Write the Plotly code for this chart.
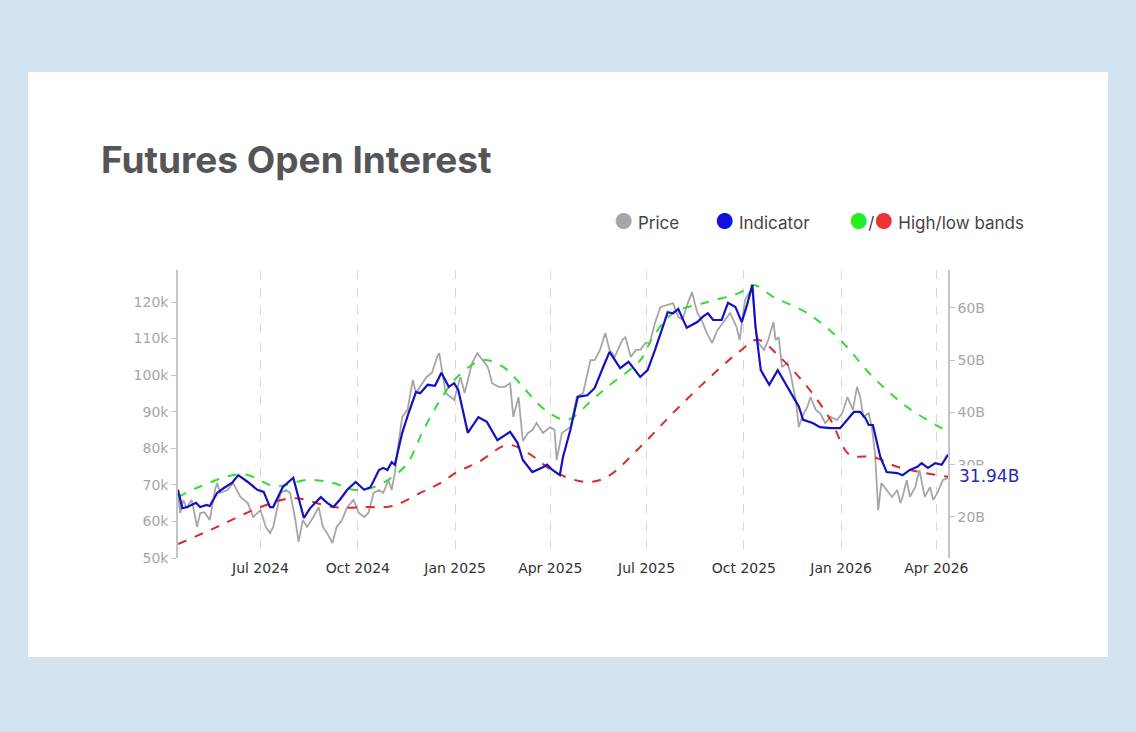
import plotly.graph_objects as go

# ---------------- data ----------------
price_dates = [
    "2024-04-14", "2024-04-16", "2024-04-19", "2024-04-22", "2024-04-27", "2024-05-02", "2024-05-05",
    "2024-05-09", "2024-05-14", "2024-05-19", "2024-05-21", "2024-05-24", "2024-05-31", "2024-06-05",
    "2024-06-12", "2024-06-19", "2024-06-24", "2024-07-01", "2024-07-06", "2024-07-10", "2024-07-13",
    "2024-07-20", "2024-07-25", "2024-07-29", "2024-08-03", "2024-08-06", "2024-08-10", "2024-08-14",
    "2024-08-20", "2024-08-25", "2024-08-29", "2024-09-02", "2024-09-07", "2024-09-11", "2024-09-16",
    "2024-09-21", "2024-09-27", "2024-10-02", "2024-10-07", "2024-10-11", "2024-10-16", "2024-10-21",
    "2024-10-25", "2024-10-30", "2024-11-02", "2024-11-05", "2024-11-08", "2024-11-12", "2024-11-17",
    "2024-11-22", "2024-11-25", "2024-11-29", "2024-12-05", "2024-12-10", "2024-12-15", "2024-12-17",
    "2024-12-21", "2024-12-23", "2024-12-31", "2025-01-06", "2025-01-10", "2025-01-17", "2025-01-22",
    "2025-01-27", "2025-02-01", "2025-02-05", "2025-02-11", "2025-02-17", "2025-02-22", "2025-02-25",
    "2025-03-02", "2025-03-06", "2025-03-11", "2025-03-15", "2025-03-19", "2025-03-25", "2025-04-01",
    "2025-04-05", "2025-04-07", "2025-04-12", "2025-04-20", "2025-04-26", "2025-05-02", "2025-05-09",
    "2025-05-13", "2025-05-18", "2025-05-23", "2025-05-27", "2025-06-01", "2025-06-08", "2025-06-11",
    "2025-06-16", "2025-06-21", "2025-06-25", "2025-06-30", "2025-07-04", "2025-07-09", "2025-07-14",
    "2025-07-21", "2025-07-26", "2025-07-31", "2025-08-04", "2025-08-09", "2025-08-13", "2025-08-18",
    "2025-08-22", "2025-08-27", "2025-09-01", "2025-09-06", "2025-09-11", "2025-09-18", "2025-09-24",
    "2025-09-27", "2025-10-02", "2025-10-09", "2025-10-12", "2025-10-15", "2025-10-20", "2025-10-24",
    "2025-10-29", "2025-10-31", "2025-11-03", "2025-11-06", "2025-11-11", "2025-11-14", "2025-11-19",
    "2025-11-22", "2025-11-25", "2025-11-30", "2025-12-03", "2025-12-08", "2025-12-12", "2025-12-17",
    "2025-12-22", "2025-12-28", "2026-01-02", "2026-01-07", "2026-01-12", "2026-01-16", "2026-01-19",
    "2026-01-22", "2026-01-27", "2026-01-30", "2026-02-02", "2026-02-05", "2026-02-08", "2026-02-13",
    "2026-02-18", "2026-02-23", "2026-02-26", "2026-02-28", "2026-03-04", "2026-03-07", "2026-03-12",
    "2026-03-16", "2026-03-21", "2026-03-26", "2026-03-29", "2026-04-02", "2026-04-07", "2026-04-12",
]
price_k = [
    67.8, 62.3, 65.9, 63.7, 65.9, 58.5, 62.3,
    62.5, 60.4, 68.6, 70.5, 67.8, 68.6, 70.5,
    66.7, 65.0, 61.2, 63.1, 58.5, 56.8, 58.5,
    67.8, 68.6, 67.8, 60.4, 54.4, 60.4, 58.5,
    61.2, 63.9, 58.5, 56.8, 54.1, 58.5, 60.4,
    63.9, 65.9, 62.3, 61.2, 62.3, 67.8, 68.6,
    67.8, 71.3, 68.6, 73.2, 80.4, 88.6, 90.5,
    98.7, 95.1, 96.8, 99.5, 100.6, 105.0, 106.0,
    97.8, 95.1, 93.2, 99.5, 95.1, 103.3, 106.0,
    104.1, 102.2, 97.8, 96.8, 96.8, 97.8, 88.6,
    94.0, 82.0, 84.2, 85.0, 86.9, 84.2, 85.8,
    85.0, 76.8, 84.2, 85.8, 94.0, 95.1, 104.1,
    104.1, 106.9, 111.5, 106.9, 105.0, 109.6, 110.4,
    105.0, 106.9, 106.9, 108.8, 108.8, 114.3, 118.6,
    119.2, 119.7, 115.9, 115.1, 119.7, 122.7, 117.0,
    115.1, 111.5, 108.8, 112.3, 114.3, 117.0, 113.2,
    109.6, 120.5, 124.1, 113.2, 108.8, 106.9, 109.6,
    114.5, 109.6, 110.4, 102.2, 103.3, 100.6, 93.2,
    85.8, 88.6, 91.3, 94.0, 90.5, 89.6, 86.9,
    88.6, 87.7, 89.6, 94.0, 90.5, 96.8, 94.0,
    88.6, 89.6, 85.8, 78.7, 63.1, 70.5, 68.6,
    66.7, 68.6, 65.0, 66.7, 71.3, 66.7, 69.4,
    74.1, 66.7, 69.4, 65.9, 67.8, 71.3, 71.9,
]

indicator_dates = [
    "2024-04-14", "2024-04-18", "2024-04-23", "2024-05-01", "2024-05-05", "2024-05-11", "2024-05-14",
    "2024-05-21", "2024-05-27", "2024-06-04", "2024-06-10", "2024-06-19", "2024-06-28", "2024-07-04",
    "2024-07-10", "2024-07-13", "2024-07-22", "2024-08-01", "2024-08-11", "2024-08-17", "2024-08-27",
    "2024-09-02", "2024-09-08", "2024-09-14", "2024-09-21", "2024-09-29", "2024-10-07", "2024-10-13",
    "2024-10-21", "2024-10-25", "2024-10-29", "2024-11-02", "2024-11-05", "2024-11-12", "2024-11-18",
    "2024-11-25", "2024-11-29", "2024-12-06", "2024-12-13", "2024-12-19", "2024-12-26", "2024-12-31",
    "2025-01-04", "2025-01-13", "2025-01-23", "2025-01-31", "2025-02-10", "2025-02-22", "2025-03-01",
    "2025-03-06", "2025-03-15", "2025-03-24", "2025-03-29", "2025-04-03", "2025-04-10", "2025-04-13",
    "2025-04-20", "2025-04-27", "2025-05-06", "2025-05-13", "2025-05-21", "2025-05-27", "2025-06-06",
    "2025-06-14", "2025-06-25", "2025-07-02", "2025-07-09", "2025-07-16", "2025-07-21", "2025-07-26",
    "2025-07-31", "2025-08-08", "2025-08-18", "2025-08-23", "2025-08-28", "2025-09-02", "2025-09-10",
    "2025-09-16", "2025-09-23", "2025-09-29", "2025-10-04", "2025-10-09", "2025-10-12", "2025-10-17",
    "2025-10-25", "2025-11-02", "2025-11-09", "2025-11-17", "2025-11-22", "2025-11-26", "2025-12-05",
    "2025-12-12", "2025-12-22", "2025-12-31", "2026-01-07", "2026-01-13", "2026-01-19", "2026-01-24",
    "2026-01-27", "2026-01-31", "2026-02-07", "2026-02-13", "2026-02-23", "2026-02-28", "2026-03-07",
    "2026-03-14", "2026-03-18", "2026-03-24", "2026-03-31", "2026-04-06", "2026-04-12",
]
indicator_b = [
    25.2, 21.7, 21.9, 22.7, 21.9, 22.3, 22.1,
    24.6, 25.5, 26.5, 28.0, 26.7, 25.2, 24.8,
    21.9, 21.9, 25.7, 27.5, 19.8, 21.7, 23.8,
    22.7, 21.9, 23.3, 25.2, 26.7, 25.2, 25.7,
    29.0, 29.4, 29.0, 30.5, 30.0, 36.1, 39.9,
    43.9, 43.7, 45.3, 45.1, 47.6, 44.9, 45.6,
    44.3, 36.1, 39.1, 38.2, 34.7, 36.3, 34.2,
    30.9, 28.6, 29.4, 30.0, 29.0, 28.0, 31.5,
    36.7, 43.0, 43.3, 44.7, 48.7, 51.6, 48.5,
    49.7, 46.8, 48.1, 52.0, 56.4, 59.2, 59.0,
    59.8, 56.2, 57.3, 58.3, 59.0, 57.7, 57.7,
    61.0, 60.2, 57.3, 60.6, 64.4, 56.4, 48.1,
    45.3, 48.1, 45.6, 43.0, 41.1, 38.6, 38.0,
    37.2, 37.0, 37.0, 38.6, 40.1, 40.1, 38.9,
    37.6, 37.6, 31.5, 28.6, 28.4, 28.0, 29.0,
    29.6, 30.3, 29.4, 30.3, 30.0, 31.94,
]

high_dates = [
    "2024-04-14", "2024-05-01", "2024-06-14", "2024-07-15", "2024-08-15", "2024-09-08", "2024-09-27",
    "2024-10-16", "2024-11-03", "2024-11-17", "2024-12-02", "2024-12-18", "2025-01-03", "2025-01-27",
    "2025-02-17", "2025-03-06", "2025-03-27", "2025-04-17", "2025-05-11", "2025-05-25", "2025-06-25",
    "2025-07-07", "2025-07-26", "2025-08-27", "2025-09-27", "2025-10-10", "2025-10-29", "2025-11-30",
    "2025-12-31", "2026-01-31", "2026-03-04", "2026-04-12",
]
high_b = [
    23.8, 25.5, 28.2, 25.9, 27.1, 26.5, 25.2,
    25.7, 27.7, 30.3, 36.6, 42.4, 46.8, 50.0,
    48.5, 44.9, 40.5, 38.6, 42.5, 44.9, 50.0,
    54.4, 59.0, 61.1, 62.9, 64.4, 62.1, 59.0,
    53.9, 46.8, 41.1, 36.3,
]

low_dates = [
    "2024-04-14", "2024-05-21", "2024-07-01", "2024-08-01", "2024-09-08", "2024-10-10", "2024-11-03",
    "2024-11-29", "2024-12-18", "2025-01-03", "2025-01-23", "2025-02-20", "2025-03-11", "2025-04-07",
    "2025-05-06", "2025-05-25", "2025-06-25", "2025-07-26", "2025-08-27", "2025-09-27", "2025-10-14",
    "2025-11-04", "2025-11-30", "2025-12-22", "2026-01-09", "2026-01-31", "2026-02-23", "2026-03-16",
    "2026-04-12",
]
low_b = [
    14.8, 18.1, 21.9, 23.6, 21.9, 21.9, 22.1,
    24.6, 26.5, 28.6, 30.5, 33.8, 32.2, 28.4,
    26.7, 27.7, 33.4, 39.9, 46.2, 51.7, 53.9,
    50.6, 44.9, 38.6, 31.9, 31.5, 29.6, 28.6,
    27.7,
]

left_ticks = [50, 60, 70, 80, 90, 100, 110, 120]
right_ticks = [20, 30, 40, 50, 60]
last_label = "31.94B"

# ---------------- styling ----------------
GRAY = "#a6a6a6"
BLUE = "#1212c2"
GREEN = "#33dd33"
RED = "#dd2a2a"
BG = "#d4e3f0"
TICK_FONT = "DejaVu Sans, Verdana, sans-serif"
UI_FONT = "Inter, Noto Sans, sans-serif"

fig = go.Figure()

fig.add_trace(go.Scatter(x=price_dates, y=price_k, mode="lines", name="Price",
                         line=dict(color=GRAY, width=1.8), yaxis="y"))
fig.add_trace(go.Scatter(x=high_dates, y=high_b, mode="lines", name="High band",
                         line=dict(color=GREEN, width=2, dash="dash", shape="spline", smoothing=1.0),
                         yaxis="y2"))
fig.add_trace(go.Scatter(x=low_dates, y=low_b, mode="lines", name="Low band",
                         line=dict(color=RED, width=2, dash="dash", shape="spline", smoothing=1.0),
                         yaxis="y2"))
fig.add_trace(go.Scatter(x=indicator_dates, y=indicator_b, mode="lines", name="Indicator",
                         line=dict(color=BLUE, width=2.2), yaxis="y2"))

# plot area in pixels: x 178..948, y 270..558
W, H = 1136, 732
L, R, T, B = 178, 948, 270, 558
pw, ph = R - L, B - T

def px_x(px):
    return (px - L) / pw

def px_y(py):
    return (B - py) / ph

fig.update_layout(
    width=W, height=H,
    margin=dict(l=L, r=W - R, t=T, b=H - B, pad=0),
    paper_bgcolor=BG,
    plot_bgcolor="rgba(0,0,0,0)",
    showlegend=False,
    hovermode="x unified",
    title=dict(text="<b>Futures Open Interest</b>", x=101 / W, xref="container", xanchor="left",
               y=1 - 160 / H, yref="container", yanchor="middle",
               font=dict(family=UI_FONT, size=37, color="#555558")),
    xaxis=dict(
        type="date", range=["2024-04-14", "2026-04-12"],
        tick0="2024-01-01", dtick="M3", tickformat="%b %Y",
        showgrid=True, gridcolor="#d8d8d8", griddash="dash", gridwidth=1,
        showline=False, zeroline=False, ticks="",
        tickfont=dict(family=TICK_FONT, size=14, color="#333333"),
    ),
    yaxis=dict(
        range=[50, 128.75], tickvals=left_ticks, ticktext=[f"{v}k" for v in left_ticks],
        showgrid=False, zeroline=False, showline=True, linecolor="#c4c4c4", linewidth=1.5,
        ticks="outside", ticklen=5, tickcolor="#c4c4c4",
        tickfont=dict(family=TICK_FONT, size=14, color="#a6a6a6"),
    ),
    yaxis2=dict(
        range=[12.15, 67.27], overlaying="y", side="right",
        tickvals=right_ticks, ticktext=[f"{v}B" for v in right_ticks],
        showgrid=False, zeroline=False, showline=True, linecolor="#c4c4c4", linewidth=1.5,
        ticks="outside", ticklen=5, tickcolor="#c4c4c4",
        tickfont=dict(family=TICK_FONT, size=14, color="#a6a6a6"),
    ),
)

# white card behind the chart
fig.add_shape(type="rect", xref="paper", yref="paper",
              x0=px_x(28), x1=px_x(1108), y0=px_y(657), y1=px_y(72),
              fillcolor="#ffffff", line=dict(width=0), layer="below")

# last-value label
fig.add_annotation(xref="paper", yref="y2", x=1, y=indicator_b[-1], xanchor="left", yanchor="middle",
                   xshift=10, yshift=-21, showarrow=False, text=last_label,
                   bgcolor="#ffffff", borderpad=0,
                   font=dict(family=TICK_FONT, size=17, color="#2a2ab4"))

# custom legend
legend_items = [
    (612, f'<span style="color:{GRAY}; font-size:21px">●</span> Price'),
    (713, f'<span style="color:#1010e0; font-size:21px">●</span> Indicator'),
    (847, f'<span style="color:#22ee22; font-size:21px">●</span>/'
          f'<span style="color:#ee3333; font-size:21px">●</span> High/low bands'),
]
for px, txt in legend_items:
    fig.add_annotation(xref="paper", yref="paper", x=px_x(px), y=px_y(221), xanchor="left",
                       yanchor="middle", showarrow=False, text=txt,
                       font=dict(family=UI_FONT, size=17, color="#444444"))

fig.write_html(
    "out.html",
    config={"displayModeBar": False},
    post_script=(
        "document.body.style.margin='0';"
        "document.body.style.overflow='hidden';"
        f"document.body.style.background='{BG}';"
    ),
)
